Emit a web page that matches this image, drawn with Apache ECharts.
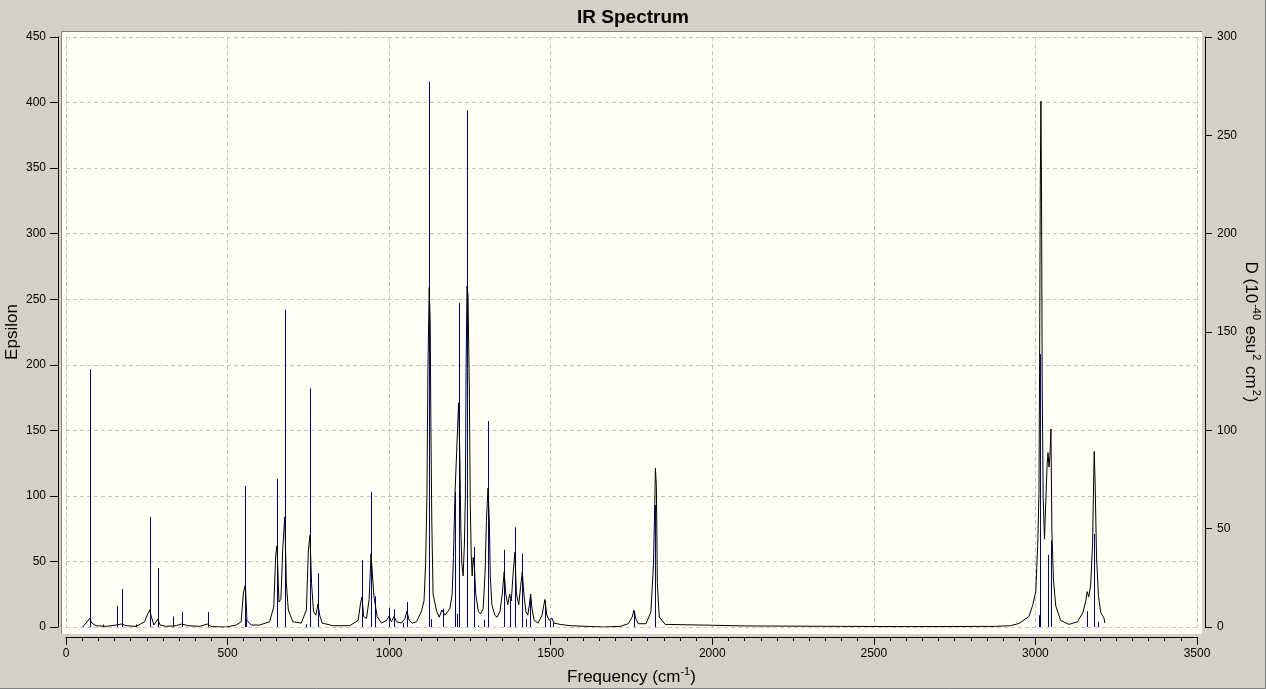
<!DOCTYPE html>
<html>
<head>
<meta charset="utf-8">
<script src="https://cdn.jsdelivr.net/npm/echarts@6/dist/echarts.min.js"></script>
<style>
html,body{margin:0;padding:0;background:#d4d0c8;}
#chart{width:1266px;height:689px;}
</style>
</head>
<body>
<div id="chart"></div>
<script>
// Tick labels
var xTicks = [0, 500, 1000, 1500, 2000, 2500, 3000, 3500];
var epsTicks = [0, 50, 100, 150, 200, 250, 300, 350, 400, 450];
var dTicks = [0, 50, 100, 150, 200, 250, 300];

// Stick spectrum: frequency (cm-1) and dipole strength D (10^-40 esu^2 cm^2)
var stickFreq = [73, 113, 157, 172, 216, 259, 284, 330, 358, 439, 553, 556, 653, 677, 742, 755, 780,
  916, 944, 956, 1000, 1015, 1044, 1055, 1124, 1130, 1167, 1204, 1211, 1217, 1241, 1263, 1276, 1294,
  1306, 1356, 1373, 1390, 1412, 1423, 1437, 1482, 1499, 1506, 1759, 1822, 3011, 3014, 3039, 3048,
  3161, 3180, 3193];
var stickD = [131, 1.3, 10.7, 19.3, 1.3, 56, 30, 5.3, 7.7, 7.7, 71.7, 4, 75.3, 161.3, 1.3, 121.3, 27.3,
  34, 68.7, 15.7, 9.7, 9.1, 2, 12.7, 277.3, 4, 9.3, 68.7, 6.7, 164.7, 262.7, 40.7, 0.7, 3.7,
  104.7, 39.3, 14, 50.7, 37.3, 4, 16.7, 13.3, 3.3, 2, 8, 62, 6, 138.7, 36.7, 44,
  8, 47.3, 2.7];

// Broadened spectrum (Epsilon)
var curveFreq = [51, 62, 73, 80, 93, 124, 155, 172, 186, 217, 243, 253, 259, 264, 272, 284, 291, 310, 341, 358,
  377, 413, 439, 449, 496, 527, 542, 549, 555, 560, 573, 599, 630, 643, 649, 653, 659, 665, 671, 677,
  682, 688, 702, 728, 744, 750, 755, 760, 766, 773, 780, 785, 793, 826, 878, 904, 912, 916, 921, 930,
  938, 944, 948, 953, 957, 963, 976, 992, 1000, 1007, 1015, 1023, 1038, 1049, 1055, 1062, 1072, 1085, 1100, 1108,
  1113, 1117, 1120, 1124, 1127, 1129, 1132, 1136, 1147, 1155, 1163, 1167, 1173, 1179, 1188, 1195, 1199, 1202, 1204, 1209,
  1215, 1219, 1222, 1225, 1229, 1233, 1236, 1238, 1241, 1244, 1248, 1251, 1254, 1257, 1260, 1264, 1268, 1276, 1283, 1291,
  1297, 1301, 1306, 1310, 1313, 1318, 1327, 1334, 1343, 1350, 1356, 1361, 1367, 1373, 1378, 1384, 1389, 1394, 1401, 1407,
  1412, 1417, 1423, 1429, 1434, 1438, 1442, 1449, 1461, 1473, 1482, 1488, 1496, 1503, 1510, 1529, 1560, 1663, 1715, 1740,
  1752, 1758, 1763, 1771, 1795, 1810, 1818, 1822, 1824, 1827, 1830, 1836, 1854, 2004, 2107, 2396, 2600, 2603, 2877, 2923,
  2949, 2980, 2992, 3001, 3007, 3011, 3013, 3015, 3017, 3019, 3021, 3024, 3028, 3031, 3036, 3039, 3042, 3045, 3048, 3051,
  3056, 3063, 3078, 3104, 3130, 3147, 3156, 3160, 3165, 3171, 3177, 3180, 3182, 3185, 3189, 3195, 3202, 3212, 3215];
var curveEps = [0, 3, 6.6, 3, 1, 0.5, 1.5, 2.3, 1, 0.5, 4, 10, 13, 8, 1.5, 6, 1.5, 0.5, 1, 2.3,
  1, 0.5, 2.3, 0.3, 0, 1.5, 4, 26, 32, 5, 1.5, 1.5, 4, 15.5, 55, 62, 19, 21, 61, 84,
  33, 13, 4, 3, 13, 58, 70, 33, 12, 9, 17.6, 9, 3, 1, 1, 5, 19, 23, 8, 6.6,
  21, 56, 41, 23, 22, 8, 3, 5, 8.4, 4, 8, 4, 3, 6.6, 12, 5, 3, 4, 12, 20,
  50, 100, 196, 259, 234, 159, 80, 25, 12, 7.5, 13, 14, 9, 7.5, 14, 25, 53, 84, 103, 134,
  171, 128, 73, 48, 39, 64, 100, 195, 260, 253, 184, 95, 55, 39, 53, 45, 25, 12, 10, 14,
  42, 81, 106, 81, 39, 17, 9, 7.5, 12, 25, 42, 25, 17, 25, 20, 42, 57, 25, 17, 31,
  42, 25, 12, 9, 17, 25, 14, 5, 3, 9, 21, 9, 5, 7, 3, 2, 1, 0, 0.5, 2.5,
  7.6, 12.8, 6.4, 2.5, 2.5, 11.5, 48, 94, 121, 107, 33, 7.6, 2, 1.3, 0.8, 0.5, 0.3, 0, 0.5, 1,
  2.7, 8, 17, 27, 62, 102, 206, 335, 401, 322, 184, 99, 67, 68, 123, 133, 122, 131, 151, 72,
  35, 16, 5, 2, 4, 11, 20, 27, 23, 32, 64, 110, 134, 107, 54, 24, 11, 7, 3];

var sticks = stickFreq.map(function (f, i) { return [f, stickD[i]]; });
var curve = curveFreq.map(function (f, i) { return [f, curveEps[i]]; });

var FONT = 'Liberation Sans, Arial, sans-serif';
var chart = echarts.init(document.getElementById('chart'), null, {renderer: 'canvas'});

var gridLine = {show: true, showMinLine: true, showMaxLine: true,
  lineStyle: {color: '#c4c4c4', type: [4, 3], width: 1}};

var option = {
  backgroundColor: '#d4d0c8',
  animation: false,
  title: {
    text: 'IR Spectrum',
    left: 'center',
    top: 3,
    textStyle: {fontFamily: FONT, fontSize: 19, fontWeight: 'bold', color: '#000'}
  },
  graphic: {
    elements: [
      {type: 'rect', z: -10, silent: true, shape: {x: 61, y: 31, width: 1141, height: 603},
        style: {fill: '#fffff5'}},
      {type: 'polyline', z: -9, silent: true, shape: {points: [[61.5, 634], [61.5, 31.5], [1202, 31.5]]},
        style: {stroke: '#808080', lineWidth: 1, fill: null}},
      {type: 'polyline', z: -9, silent: true, shape: {points: [[62, 633.5], [1201.5, 633.5], [1201.5, 32]]},
        style: {stroke: '#ffffff', lineWidth: 1, fill: null}},
      {type: 'polyline', z: -9, silent: true, shape: {points: [[0, 688.5], [1265.5, 688.5], [1265.5, 0]]},
        style: {stroke: '#808080', lineWidth: 1, fill: null}}
    ]
  },
  grid: {left: 66, right: 69, top: 37, bottom: 62, containLabel: false, outerBoundsMode: 'none'},
  xAxis: {
    type: 'value',
    min: xTicks[0],
    max: xTicks[xTicks.length - 1],
    interval: 500,
    offset: 10,
    name: '{a|Frequency (cm}{s|-1}{a|)}',
    nameLocation: 'middle',
    nameGap: 29,
    nameMoveOverlap: false,
    nameTextStyle: {
      rich: {
        a: {fontFamily: FONT, fontSize: 17, color: '#000', lineHeight: 22},
        s: {fontFamily: FONT, fontSize: 11, color: '#000', lineHeight: 13, verticalAlign: 'top'}
      }
    },
    axisLine: {show: true, onZero: false, lineStyle: {color: '#000', width: 1}},
    axisTick: {show: true, length: 8, lineStyle: {color: '#000'}},
    minorTick: {show: true, splitNumber: 10, length: 4, lineStyle: {color: '#000'}},
    axisLabel: {fontFamily: FONT, fontSize: 12, color: '#000', margin: 11,
      formatter: function (v) { return xTicks.indexOf(v) >= 0 ? String(v) : ''; }},
    splitLine: gridLine
  },
  yAxis: [
    {
      type: 'value',
      min: epsTicks[0],
      max: epsTicks[epsTicks.length - 1],
      interval: 50,
      position: 'left',
      offset: 8,
      name: 'Epsilon',
      nameLocation: 'middle',
      nameRotate: 90,
      nameGap: 37,
      nameMoveOverlap: false,
      nameTextStyle: {fontFamily: FONT, fontSize: 17, color: '#000'},
      axisLine: {show: true, onZero: false, lineStyle: {color: '#000', width: 1}},
      axisTick: {show: true, length: 8, lineStyle: {color: '#000'}},
      axisLabel: {fontFamily: FONT, fontSize: 12, color: '#000', margin: 12},
      splitLine: gridLine
    },
    {
      type: 'value',
      min: dTicks[0],
      max: dTicks[dTicks.length - 1],
      interval: 50,
      position: 'right',
      offset: 8,
      name: '{a|D (10}{s|-40}{a| esu}{s|2}{a| cm}{s|2}{a|)}',
      nameLocation: 'middle',
      nameRotate: -90,
      nameGap: 35,
      nameMoveOverlap: false,
      nameTextStyle: {
        rich: {
          a: {fontFamily: FONT, fontSize: 17, color: '#000', lineHeight: 22},
          s: {fontFamily: FONT, fontSize: 11, color: '#000', lineHeight: 13, verticalAlign: 'top', padding: [0, 1, 0, 1]}
        }
      },
      axisLine: {show: true, onZero: false, lineStyle: {color: '#000', width: 1}},
      axisTick: {show: true, length: 7, lineStyle: {color: '#000'}},
      axisLabel: {fontFamily: FONT, fontSize: 12, color: '#000', margin: 12},
      splitLine: {show: false}
    }
  ],
  series: [
    {
      type: 'custom',
      name: 'Sticks',
      xAxisIndex: 0,
      yAxisIndex: 1,
      z: 3,
      encode: {x: 0, y: 1},
      data: sticks,
      renderItem: function (params, api) {
        var f = api.value(0), d = api.value(1);
        var p0 = api.coord([f, 0]);
        var p1 = api.coord([f, d]);
        var x = Math.round(p0[0]) + 0.5;
        return {
          type: 'line',
          shape: {x1: x, y1: p0[1], x2: x, y2: p1[1]},
          style: {stroke: '#0000a0', lineWidth: 1}
        };
      }
    },
    {
      type: 'line',
      name: 'Epsilon',
      xAxisIndex: 0,
      yAxisIndex: 0,
      z: 4,
      data: curve,
      showSymbol: false,
      symbol: 'none',
      lineStyle: {color: '#000', width: 1},
      emphasis: {disabled: true}
    }
  ]
};
chart.setOption(option);
</script>
</body>
</html>
